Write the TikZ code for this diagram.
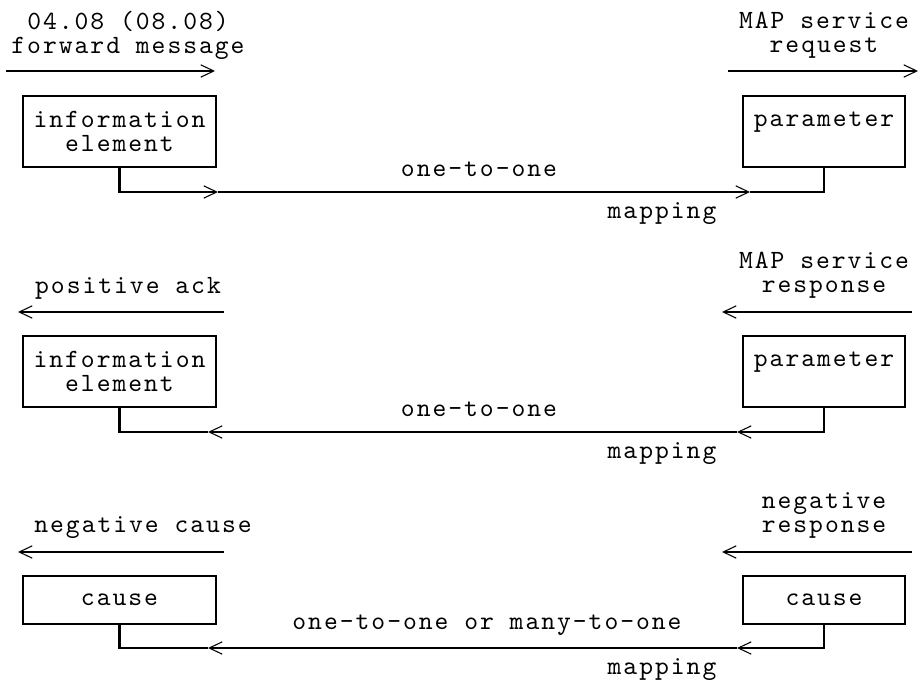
\documentclass[tikz,border=0pt]{standalone}
\usepackage{fontspec}
\newfontfamily\asciifont{lmmono10-regular.otf}[LetterSpace=7.5]
\usetikzlibrary{arrows.meta}

\newcommand{\diagfont}{\asciifont\fontsize{19.75pt}{18pt}\selectfont}

\tikzset{
  lbl/.style={font=\diagfont, align=center, inner sep=0pt},
  box/.style={draw, line width=1.6pt, inner sep=0pt, align=center, font=\diagfont},
  wide/.style={minimum width=144.75pt},
  narrow/.style={minimum width=121.5pt},
  tall/.style={minimum height=53.25pt},
  flat/.style={minimum height=36pt},
  wire/.style={line width=1.6pt},
  sig/.style={wire, -{Straight Barb[length=9.75pt, width=9.25pt, line width=0.8pt]}},
}

\begin{document}
\begin{tikzpicture}[x=0.75pt, y=-0.75pt]
  \useasboundingbox (0,0) rectangle (919,684);
  % request
  \node[lbl] (fwd) at (128,35) {04.08 (08.08)\\forward message};
  \node[lbl] (req) at (824,35) {MAP service\\request};
  \coordinate (fwdA) at (6,71);
  \coordinate (fwdB) at (215,71);
  \coordinate (reqA) at (728,71);
  \coordinate (reqB) at (918,71);
  \draw[sig] (fwdA) -- (fwdB);
  \draw[sig] (reqA) -- (reqB);
  \node[box, wide, tall] (ie1) at (119.5,131.5) {information\\element};
  \node[box, narrow, tall] (par1) at (824,131.5) {parameter\\\mbox{}};
  \node[lbl] (map1) at (479,169) {one-to-one};
  \node[lbl] (mapping1) at (662,214) {mapping};
  \coordinate (m1a) at (218,192);
  \coordinate (m1b) at (750,192);
  \draw[sig] (ie1.south) |- (m1a);
  \draw[sig] (m1a) -- (m1b);
  \draw[wire] (m1b) -| (par1.south);

  % response
  \node[lbl] (ack) at (128,288) {positive ack};
  \node[lbl] (rsp) at (824,275) {MAP service\\response};
  \coordinate (ackA) at (224,312);
  \coordinate (ackB) at (18,312);
  \coordinate (rspA) at (912,312);
  \coordinate (rspB) at (722,312);
  \draw[sig] (ackA) -- (ackB);
  \draw[sig] (rspA) -- (rspB);
  \node[box, wide, tall] (ie2) at (119.5,371.5) {information\\element};
  \node[box, narrow, tall] (par2) at (824,371.5) {parameter\\\mbox{}};
  \node[lbl] (map2) at (479,409) {one-to-one};
  \node[lbl] (mapping2) at (662,454) {mapping};
  \coordinate (m2a) at (737,432);
  \coordinate (m2b) at (208,432);
  \draw[sig] (par2.south) |- (m2a);
  \draw[sig] (m2a) -- (m2b);
  \draw[wire] (m2b) -| (ie2.south);

  % error
  \node[lbl] (neg) at (143,528) {negative cause};
  \node[lbl] (nrsp) at (824,515) {negative\\response};
  \coordinate (negA) at (224,552);
  \coordinate (negB) at (18,552);
  \coordinate (nrspA) at (912,552);
  \coordinate (nrspB) at (722,552);
  \draw[sig] (negA) -- (negB);
  \draw[sig] (nrspA) -- (nrspB);
  \node[box, wide, flat] (cause1) at (119.5,600) {cause};
  \node[box, narrow, flat] (cause2) at (824,600) {cause};
  \node[lbl] (map3) at (487,625) {one-to-one or many-to-one};
  \node[lbl] (mapping3) at (662,670) {mapping};
  \coordinate (m3a) at (737,648);
  \coordinate (m3b) at (208,648);
  \draw[sig] (cause2.south) |- (m3a);
  \draw[sig] (m3a) -- (m3b);
  \draw[wire] (m3b) -| (cause1.south);
\end{tikzpicture}
\end{document}
